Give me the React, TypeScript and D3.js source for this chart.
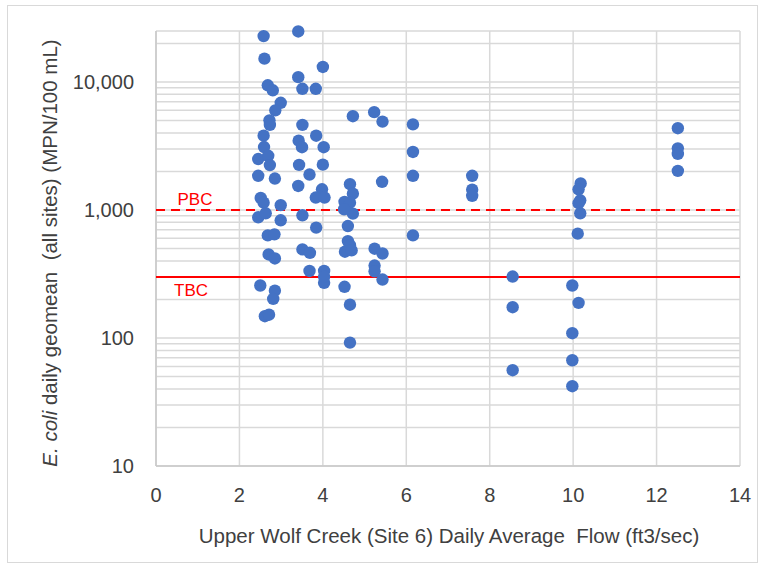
import React, { useRef, useEffect } from 'react';
import * as d3 from 'd3';

// Daily average flow at Site 6 (ft3/sec)
const flowCfs = [
  2.58, 2.60, 2.68, 2.80, 2.99, 2.86, 2.72, 2.73, 2.58, 2.59,
  2.45, 2.69, 2.73, 2.45, 2.85, 2.51, 2.58, 2.99, 2.45, 2.63,
  2.99, 2.68, 2.84, 2.70, 2.85, 2.50, 2.85, 2.81, 2.61, 2.71,
  3.41, 4.00, 3.41, 3.51, 3.83, 3.51, 3.84, 3.42, 3.50, 4.02,
  3.43, 4.00, 3.68, 3.41, 3.98, 3.83, 4.04, 3.51, 3.84, 3.51,
  3.69, 3.68, 4.03, 4.03, 4.03,
  4.72, 4.65, 4.72, 4.52, 4.65, 4.72, 4.51, 4.60, 4.60, 4.65,
  4.53, 4.69, 4.52, 4.65, 4.65,
  5.23, 5.43, 5.42, 5.24, 5.43, 5.24, 5.24, 5.43,
  6.16, 6.16, 6.16, 6.16,
  7.58, 7.58, 7.58,
  8.55, 8.55, 8.55,
  10.18, 10.13, 10.17, 10.13, 10.17, 10.11, 9.98, 10.13, 9.98, 9.98, 9.98,
  12.51, 12.51, 12.51, 12.51,
];

// E. coli daily geomean, all sites (MPN/100 mL)
const ecoliGeomean = [
  22800, 15200, 9420, 8610, 6870, 6000, 5010, 4620, 3800, 3100,
  2500, 2650, 2240, 1850, 1760, 1240, 1140, 1090, 877, 942,
  830, 633, 645, 449, 418, 257, 234, 202, 148, 152,
  24800, 13100, 10900, 8840, 8840, 4620, 3800, 3480, 3090, 3090,
  2250, 2260, 1890, 1540, 1450, 1250, 1250, 909, 728, 492,
  463, 334, 334, 270, 302,
  5400, 1590, 1340, 1155, 1140, 937, 1013, 749, 571, 531,
  472, 483, 251, 182, 92,
  5810, 4900, 1660, 498, 457, 368, 332, 286,
  4660, 2840, 1850, 633,
  1850, 1440, 1290,
  302, 174, 56,
  1610, 1450, 1190, 1130, 942, 653, 257, 188, 109, 67, 42,
  4350, 3030, 2740, 2020,
];

const xTicks = [0, 2, 4, 6, 8, 10, 12, 14];
const yTicks = [10, 100, 1000, 10000];
const yMinorTicks = [
  20, 30, 40, 50, 60, 70, 80, 90,
  200, 300, 400, 500, 600, 700, 800, 900,
  2000, 3000, 4000, 5000, 6000, 7000, 8000, 9000,
  20000,
];
const thresholdNames = ['PBC', 'TBC'];
const thresholdValues = [1000, 300];

const App = () => {
  const svgRef = useRef<SVGSVGElement>(null);

  useEffect(() => {
    const width = 763;
    const height = 567;
    const margin = { top: 31, right: 23, bottom: 101, left: 156 };
    const font = '"Liberation Sans", Arial, sans-serif';
    const textColor = '#404040';
    const gridColor = '#d9d9d9';

    d3.select(svgRef.current).selectAll('*').remove();

    const svg = d3.select(svgRef.current)
      .attr('width', width)
      .attr('height', height);

    // chart border
    svg.append('rect')
      .attr('x', 7.5)
      .attr('y', 5.5)
      .attr('width', 750)
      .attr('height', 557)
      .attr('fill', '#fff')
      .attr('stroke', gridColor)
      .attr('stroke-width', 1);

    const x = d3.scaleLinear()
      .domain([0, 14])
      .range([margin.left, width - margin.right]);

    const y = d3.scaleLog()
      .domain([10, 25000])
      .range([height - margin.bottom, margin.top]);

    // horizontal gridlines (major + minor + top edge)
    const hLines = [...yTicks, ...yMinorTicks, 25000];
    svg.append('g')
      .selectAll('line')
      .data(hLines)
      .join('line')
      .attr('x1', x(0))
      .attr('x2', x(14))
      .attr('y1', d => y(d))
      .attr('y2', d => y(d))
      .attr('stroke', gridColor)
      .attr('stroke-width', 1.5);

    // vertical gridlines
    svg.append('g')
      .selectAll('line')
      .data(xTicks)
      .join('line')
      .attr('x1', d => x(d))
      .attr('x2', d => x(d))
      .attr('y1', y(10))
      .attr('y2', y(25000))
      .attr('stroke', gridColor)
      .attr('stroke-width', 1.5);

    // axis lines
    svg.append('line')
      .attr('x1', x(0)).attr('x2', x(0))
      .attr('y1', y(10)).attr('y2', y(25000))
      .attr('stroke', '#c8c8c8').attr('stroke-width', 1.5);
    svg.append('line')
      .attr('x1', x(0)).attr('x2', x(14))
      .attr('y1', y(10)).attr('y2', y(10))
      .attr('stroke', '#c8c8c8').attr('stroke-width', 1.5);

    // tick labels
    svg.append('g')
      .selectAll('text')
      .data(xTicks)
      .join('text')
      .attr('x', d => x(d))
      .attr('y', 502)
      .attr('text-anchor', 'middle')
      .attr('font-family', font)
      .attr('font-size', '20px')
      .attr('fill', textColor)
      .text(d => d);

    svg.append('g')
      .selectAll('text')
      .data(yTicks)
      .join('text')
      .attr('x', 134)
      .attr('y', d => y(d))
      .attr('dy', '0.36em')
      .attr('text-anchor', 'end')
      .attr('font-family', font)
      .attr('font-size', '20px')
      .attr('fill', textColor)
      .text(d => d3.format(',')(d));

    // threshold lines
    thresholdValues.forEach((v, i) => {
      svg.append('line')
        .attr('x1', x(0))
        .attr('x2', x(14))
        .attr('y1', y(v))
        .attr('y2', y(v))
        .attr('stroke', '#ff0000')
        .attr('stroke-width', 2)
        .attr('stroke-dasharray', i === 0 ? '9,6' : null);
    });

    // points
    svg.append('g')
      .selectAll('circle')
      .data(flowCfs.map((f, i) => [f, ecoliGeomean[i]]))
      .join('circle')
      .attr('cx', d => x(d[0]))
      .attr('cy', d => y(d[1]))
      .attr('r', 6.2)
      .attr('fill', '#4472c4');

    // threshold labels
    svg.append('text')
      .attr('x', 195)
      .attr('y', 205)
      .attr('text-anchor', 'middle')
      .attr('font-family', font)
      .attr('font-size', '17px')
      .attr('fill', '#ff0000')
      .text(thresholdNames[0]);

    svg.append('text')
      .attr('x', 191)
      .attr('y', 296)
      .attr('text-anchor', 'middle')
      .attr('font-family', font)
      .attr('font-size', '17px')
      .attr('fill', '#ff0000')
      .text(thresholdNames[1]);

    // x axis title
    svg.append('text')
      .attr('x', 449)
      .attr('y', 543)
      .attr('text-anchor', 'middle')
      .attr('font-family', font)
      .attr('font-size', '20.5px')
      .attr('fill', textColor)
      .style('white-space', 'pre')
      .text('Upper Wolf Creek (Site 6) Daily Average  Flow (ft3/sec)');

    // y axis title with italic species name
    const yTitle = svg.append('text')
      .attr('transform', 'translate(57, 253) rotate(-90)')
      .attr('text-anchor', 'middle')
      .attr('font-family', font)
      .attr('font-size', '20.5px')
      .attr('fill', textColor)
      .style('white-space', 'pre');
    yTitle.append('tspan').attr('font-style', 'italic').text('E. coli');
    yTitle.append('tspan').text(' daily geomean  (all sites) (MPN/100 mL)');
  }, []);

  return (
    <svg ref={svgRef} style={{ position: 'absolute', left: 0, top: 0 }}></svg>
  );
};

export default App;
